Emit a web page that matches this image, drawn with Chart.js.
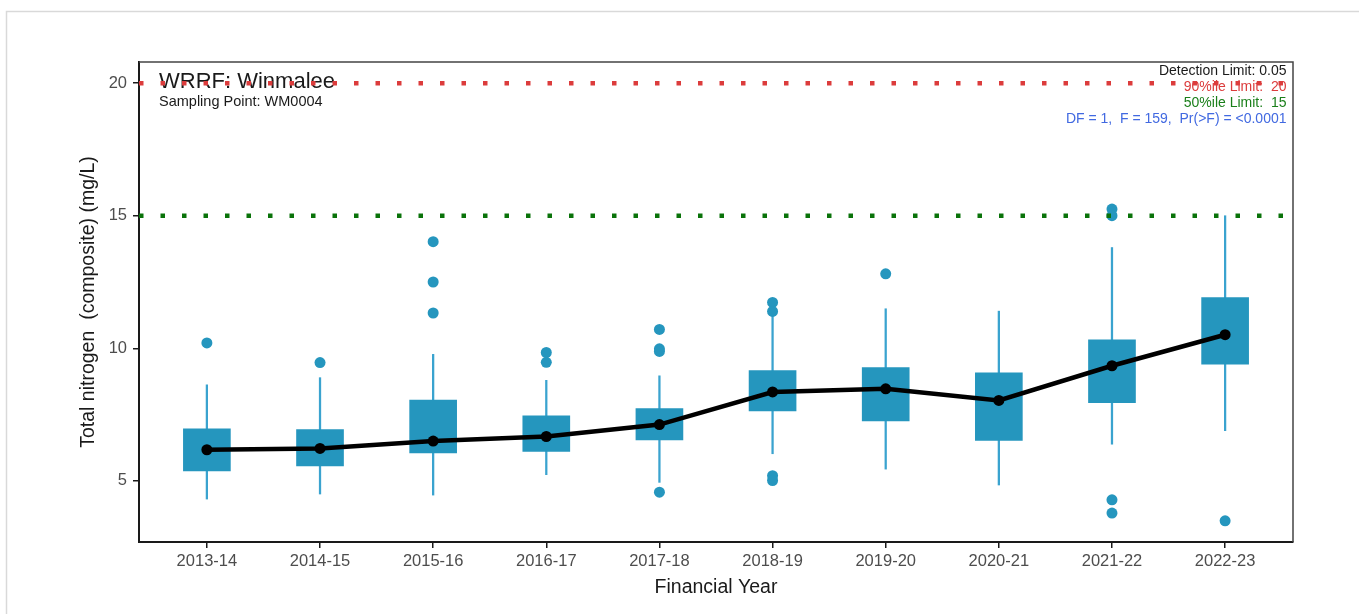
<!DOCTYPE html>
<html>
<head>
<meta charset="utf-8">
<script src="https://cdn.jsdelivr.net/npm/chart.js@4.4.0/dist/chart.umd.min.js"></script>
<style>
html, body { margin: 0; padding: 0; background: #fff; }
#wrap { width: 1359px; height: 614px; position: relative; }
</style>
</head>
<body>
<div id="wrap"><canvas id="tnChart"></canvas></div>
<script>
// ── Datos ────────────────────────────────────────────────────────
const years = ['2013-14', '2014-15', '2015-16', '2016-17', '2017-18',
               '2018-19', '2019-20', '2020-21', '2021-22', '2022-23'];

const whiskerLow  = [4.31, 4.50, 4.46, 5.23, 4.94, 6.02, 5.44, 4.84, 6.38, 6.89];
const q1          = [5.37, 5.56, 6.05, 6.11, 6.54, 7.64, 7.26, 6.52, 7.95, 9.40];
const medians     = [6.17, 6.22, 6.50, 6.67, 7.12, 8.35, 8.47, 8.03, 9.34, 10.51];
const q3          = [6.96, 6.93, 8.04, 7.45, 7.72, 9.16, 9.27, 9.07, 10.32, 11.91];
const whiskerHigh = [8.62, 8.89, 9.77, 8.79, 8.96, 11.39, 11.49, 11.40, 13.80, 15.00];

const outliers = [
    [10.2],
    [9.46],
    [11.33, 12.5, 14.02],
    [9.84, 9.47],
    [10.71, 9.98, 9.88, 4.57],
    [11.73, 11.39, 5.19, 5.01],
    [12.81],
    [],
    [15.25, 15.0, 4.28, 3.78],
    [3.49]
];

const yTicks = [5, 10, 15, 20];
const limit90 = 20;
const limit50 = 15;

const titleText = 'WRRF: Winmalee';
const subtitleText = 'Sampling Point: WM0004';
const noteLines = [
    { text: 'Detection Limit: 0.05', color: '#1a1a1a' },
    { text: '90%ile Limit:  20', color: '#dc3c3c' },
    { text: '50%ile Limit:  15', color: '#1a7f1a' },
    { text: 'DF = 1,  F = 159,  Pr(>F) = <0.0001', color: '#4169e1' }
];

// ── Colores ──────────────────────────────────────────────────────
const boxColor = '#2596be';
const whiskerColor = '#3aa3cf';
const fontFam = '"Liberation Sans", Arial, Helvetica, sans-serif';

// ── Series construidas a partir de los arrays ────────────────────
const xMin = -0.6;
const xMax = years.length - 1 + 0.6;

const whiskerData = years.map((_, i) => ({ x: i, y: [whiskerLow[i], whiskerHigh[i]] }));
const boxData = years.map((_, i) => ({ x: i, y: [q1[i], q3[i]] }));
const medianData = years.map((_, i) => ({ x: i, y: medians[i] }));
const outlierData = [];
outliers.forEach((vals, i) => vals.forEach(v => outlierData.push({ x: i, y: v })));

// ── Plugin: textos, marco y borde del panel ──────────────────────
const decorPlugin = {
    id: 'decor',
    beforeDraw(chart) {
        const ctx = chart.ctx;
        ctx.save();
        ctx.strokeStyle = '#d9d9d9';
        ctx.lineWidth = 1.5;
        ctx.beginPath();
        ctx.moveTo(6.5, chart.height);
        ctx.lineTo(6.5, 11.5);
        ctx.lineTo(chart.width, 11.5);
        ctx.stroke();
        ctx.restore();
    },
    beforeDatasetsDraw(chart) {
        const ctx = chart.ctx;
        const a = chart.chartArea;
        ctx.save();
        ctx.textBaseline = 'middle';
        ctx.textAlign = 'left';
        ctx.fillStyle = '#1a1a1a';
        ctx.font = '22px ' + fontFam;
        ctx.fillText(titleText, a.left + 20, a.top + 20);
        ctx.font = '14.5px ' + fontFam;
        ctx.fillText(subtitleText, a.left + 20, a.top + 39.5);

        ctx.textAlign = 'right';
        ctx.font = '14px ' + fontFam;
        noteLines.forEach((ln, i) => {
            ctx.fillStyle = ln.color;
            ctx.fillText(ln.text, a.right - 6.5, a.top + 9.5 + i * 16);
        });
        ctx.restore();
    },
    afterDatasetsDraw(chart) {
        const ctx = chart.ctx;
        const a = chart.chartArea;
        ctx.save();
        ctx.strokeStyle = '#444';
        ctx.lineWidth = 1.5;
        ctx.beginPath();
        ctx.moveTo(a.left, a.top);
        ctx.lineTo(a.right, a.top);
        ctx.lineTo(a.right, a.bottom);
        ctx.stroke();
        ctx.restore();
    }
};

new Chart(document.getElementById('tnChart').getContext('2d'), {
    type: 'line',
    data: {
        datasets: [
            {
                type: 'bar',
                data: whiskerData,
                backgroundColor: whiskerColor,
                borderWidth: 0,
                barThickness: 1.6,
                grouped: false,
                order: 6
            },
            {
                type: 'bar',
                data: boxData,
                backgroundColor: boxColor,
                borderWidth: 0,
                barThickness: 47,
                grouped: false,
                order: 5
            },
            {
                type: 'scatter',
                data: outlierData,
                pointRadius: 5.5,
                pointBackgroundColor: boxColor,
                pointBorderWidth: 0,
                order: 4
            },
            {
                type: 'line',
                data: medianData,
                borderColor: '#000',
                borderWidth: 4.5,
                pointRadius: 5.5,
                pointBackgroundColor: '#000',
                pointBorderWidth: 0,
                tension: 0,
                order: 3
            },
            {
                type: 'line',
                data: [{ x: xMin, y: limit90 }, { x: xMax, y: limit90 }],
                borderColor: '#dc3c3c',
                borderWidth: 4.5,
                borderDash: [4.5, 17],
                pointRadius: 0,
                order: 1
            },
            {
                type: 'line',
                data: [{ x: xMin, y: limit50 }, { x: xMax, y: limit50 }],
                borderColor: '#0a730a',
                borderWidth: 4.5,
                borderDash: [4.5, 17],
                pointRadius: 0,
                order: 1
            }
        ]
    },
    options: {
        responsive: true,
        maintainAspectRatio: false,
        animation: false,
        layout: { padding: { left: 73, right: 66, top: 62, bottom: 11 } },
        scales: {
            x: {
                type: 'linear',
                min: xMin,
                max: xMax,
                offset: false,
                afterBuildTicks: axis => { axis.ticks = years.map((_, i) => ({ value: i })); },
                afterFit: scale => { scale.height = 61; },
                ticks: {
                    color: '#4d4d4d',
                    font: { family: fontFam, size: 16.5 },
                    padding: 4,
                    maxRotation: 0,
                    autoSkip: false,
                    callback: v => years[v]
                },
                grid: { display: true, drawOnChartArea: false, drawTicks: true, tickLength: 6, color: '#1a1a1a', lineWidth: 1.5, offset: false },
                border: { display: true, color: '#1a1a1a', width: 2 },
                title: {
                    display: true,
                    text: 'Financial Year',
                    color: '#1a1a1a',
                    font: { family: fontFam, size: 19.5 }
                }
            },
            y: {
                type: 'linear',
                min: 2.69,
                max: 20.8,
                afterBuildTicks: axis => { axis.ticks = yTicks.map(v => ({ value: v })); },
                afterFit: scale => { scale.width = 66; },
                ticks: {
                    color: '#4d4d4d',
                    font: { family: fontFam, size: 16.5 },
                    padding: 6
                },
                grid: { display: true, drawOnChartArea: false, drawTicks: true, tickLength: 6, color: '#1a1a1a', lineWidth: 1.5 },
                border: { display: true, color: '#1a1a1a', width: 2 },
                title: {
                    display: true,
                    text: 'Total nitrogen  (composite) (mg/L)',
                    color: '#1a1a1a',
                    font: { family: fontFam, size: 19.5 }
                }
            }
        },
        plugins: {
            legend: { display: false },
            tooltip: { enabled: false }
        }
    },
    plugins: [decorPlugin]
});
</script>
</body>
</html>
